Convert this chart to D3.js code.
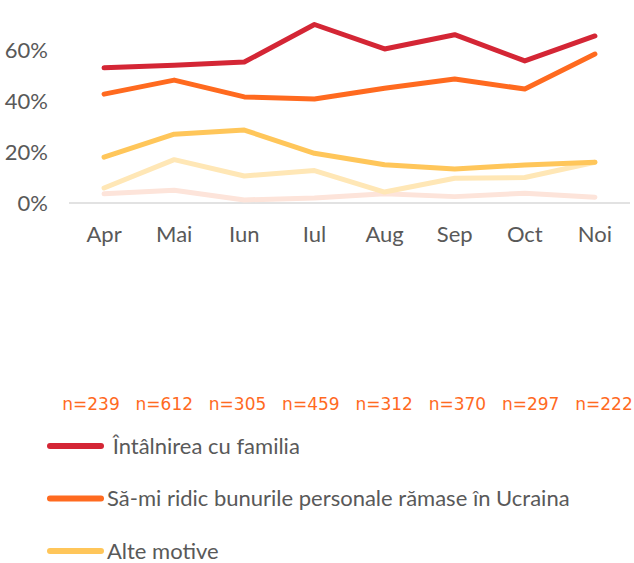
<!DOCTYPE html>
<html>
<head>
<meta charset="utf-8">
<script src="https://cdn.jsdelivr.net/npm/d3@7"></script>
<style>
  body { margin: 0; background: #fff; }
  svg { display: block; font-family: Lato, "Open Sans", sans-serif; }
</style>
</head>
<body>
<div id="chart"></div>
<script>
// months and sample sizes
const months = ['Apr', 'Mai', 'Iun', 'Iul', 'Aug', 'Sep', 'Oct', 'Noi'];
const sampleSizes = ['n=239', 'n=612', 'n=305', 'n=459', 'n=312', 'n=370', 'n=297', 'n=222'];
const yTicks = [0, 20, 40, 60];

// series values (%)
const familie = [53, 54, 55.3, 70, 60.4, 66, 55.7, 65.5];
const bunuri = [42.7, 48.2, 41.6, 40.8, 45, 48.6, 44.7, 58.4];
const alte = [18, 27, 28.6, 19.5, 15, 13.3, 14.9, 16];
const seriaPal = [5.9, 17, 10.6, 12.7, 4.3, 9.7, 10, 16];
const seriaRoz = [3.6, 5, 1.2, 2, 3.6, 2.5, 3.8, 2.3];

const series = [
    { name: 'seriaRoz', values: seriaRoz, color: '#FDE4DA' },
    { name: 'seriaPal', values: seriaPal, color: '#FFE7B6' },
    { name: 'Alte motive', values: alte, color: '#FFC65A' },
    { name: 'Să-mi ridic bunurile personale rămase în Ucraina', values: bunuri, color: '#FF6A1F' },
    { name: ' Întâlnirea cu familia', values: familie, color: '#D42635' }
];
const legendItems = [series[4], series[3], series[2]];

const width = 634;
const height = 563;
const margin = { top: 20, right: 4, left: 69 };

const svg = d3.select('#chart')
    .append('svg')
    .attr('width', width)
    .attr('height', height);

const xScale = d3.scaleBand()
    .domain(months)
    .range([margin.left, width - margin.right]);

const yScale = d3.scaleLinear()
    .domain([0, 60])
    .range([203, 50]);

// x axis line
svg.append('line')
    .attr('x1', margin.left)
    .attr('x2', width - margin.right)
    .attr('y1', yScale(0))
    .attr('y2', yScale(0))
    .attr('stroke', '#D9D9D9')
    .attr('stroke-width', 1.5);

// y tick labels
svg.append('g')
    .selectAll('text')
    .data(yTicks)
    .join('text')
    .attr('x', 48)
    .attr('y', d => yScale(d))
    .attr('dy', '0.35em')
    .attr('text-anchor', 'end')
    .attr('fill', '#595959')
    .style('font-size', '22px')
    .text(d => d + '%');

// x tick labels
svg.append('g')
    .selectAll('text')
    .data(months)
    .join('text')
    .attr('x', d => xScale(d) + xScale.bandwidth() / 2)
    .attr('y', 234)
    .attr('dy', '0.35em')
    .attr('text-anchor', 'middle')
    .attr('fill', '#595959')
    .style('font-size', '22px')
    .text(d => d);

// lines
const line = d3.line()
    .x((d, i) => xScale(months[i]) + xScale.bandwidth() / 2)
    .y(d => yScale(d));

svg.append('g')
    .selectAll('path')
    .data(series)
    .join('path')
    .attr('d', d => line(d.values))
    .attr('fill', 'none')
    .attr('stroke', d => d.color)
    .attr('stroke-width', 5)
    .attr('stroke-linecap', 'round')
    .attr('stroke-linejoin', 'round');

// sample size labels
const nScale = d3.scalePoint()
    .domain(sampleSizes)
    .range([91, 604]);

svg.append('g')
    .selectAll('text')
    .data(sampleSizes)
    .join('text')
    .attr('x', d => nScale(d))
    .attr('y', 404)
    .attr('dy', '0.35em')
    .attr('text-anchor', 'middle')
    .attr('fill', '#FF6A1F')
    .style('font-family', '"DejaVu Sans", sans-serif')
    .style('font-size', '17px')
    .text(d => d);

// legend
const legend = svg.append('g')
    .selectAll('g')
    .data(legendItems)
    .join('g')
    .attr('transform', (d, i) => `translate(0,${446 + i * 52.5})`);

legend.append('line')
    .attr('x1', 50)
    .attr('x2', 101)
    .attr('stroke', d => d.color)
    .attr('stroke-width', 6)
    .attr('stroke-linecap', 'round');

legend.append('text')
    .attr('x', 107)
    .attr('dy', '0.35em')
    .attr('fill', '#595959')
    .style('font-size', '22px')
    .style('white-space', 'pre')
    .text(d => d.name);
</script>
</body>
</html>
